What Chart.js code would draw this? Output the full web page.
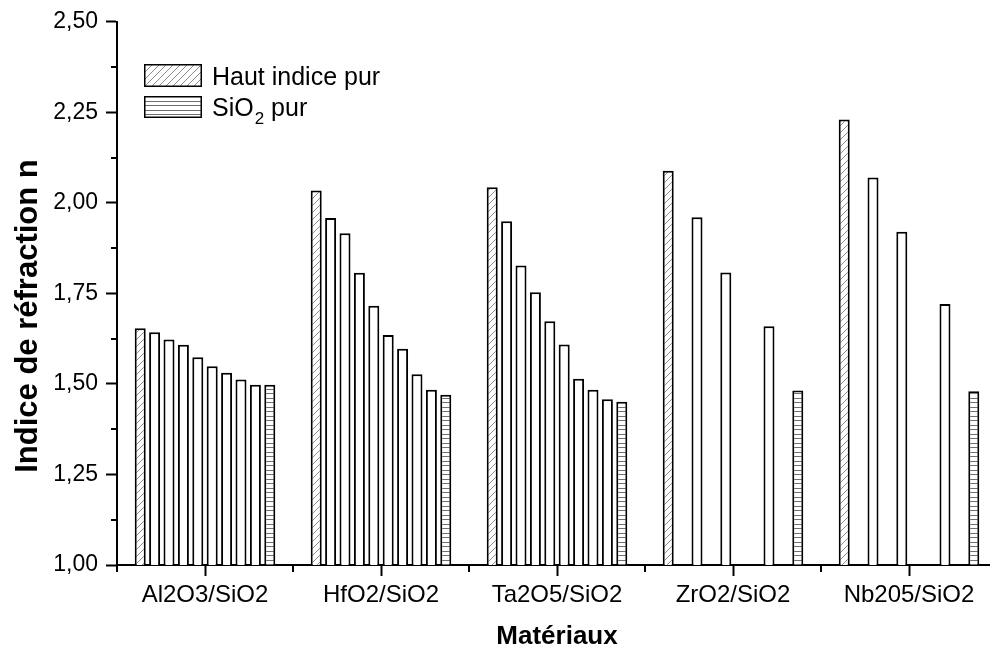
<!DOCTYPE html>
<html><head><meta charset="utf-8">
<script src="https://cdn.jsdelivr.net/npm/chart.js@4.4.1/dist/chart.umd.min.js"></script>
<style>
html,body{margin:0;padding:0;background:#fff;overflow:hidden;width:990px;height:653px}
#wrap{width:1000px;height:653px}
canvas{display:block}
</style></head><body><div id="wrap"><canvas id="c" width="1000" height="653"></canvas></div>
<script>
// ---- data ----
const categories = ['Al2O3/SiO2', 'HfO2/SiO2', 'Ta2O5/SiO2', 'ZrO2/SiO2', 'Nb205/SiO2'];
const hautIndicePur = [1.654, 2.034, 2.043, 2.089, 2.230];
const melange1 = [1.643, 1.958, 1.949, null, null];
const melange2 = [1.623, 1.916, 1.827, 1.960, 2.070];
const melange3 = [1.608, 1.807, 1.753, null, null];
const melange4 = [1.574, 1.716, 1.673, 1.808, 1.920];
const melange5 = [1.549, 1.635, 1.609, null, null];
const melange6 = [1.531, 1.597, 1.514, null, null];
const melange7 = [1.512, 1.527, 1.484, 1.659, 1.721];
const melange8 = [1.498, 1.484, 1.458, null, null];
const sio2Pur = [1.498, 1.470, 1.451, 1.482, 1.480];
const yTicks = [1.00, 1.25, 1.50, 1.75, 2.00, 2.25, 2.50];
const legendLabels = ['Haut indice pur', 'SiO₂ pur'];
const yTitle = 'Indice de réfraction n';
const xTitle = 'Matériaux';

const FONT = "'Liberation Sans', Arial, sans-serif";

function hatchPattern() {
  const c = document.createElement('canvas'); c.width = 7; c.height = 7;
  const g = c.getContext('2d');
  g.fillStyle = '#fff'; g.fillRect(0, 0, 7, 7);
  g.strokeStyle = '#8c8c8c'; g.lineWidth = 1;
  g.beginPath(); g.moveTo(-1, 8); g.lineTo(8, -1); g.stroke();
  g.beginPath(); g.moveTo(-1, 1); g.lineTo(1, -1); g.stroke();
  g.beginPath(); g.moveTo(6, 8); g.lineTo(8, 6); g.stroke();
  return g.createPattern(c, 'repeat');
}
function linePattern() {
  const c = document.createElement('canvas'); c.width = 4; c.height = 9;
  const g = c.getContext('2d');
  g.fillStyle = '#fff'; g.fillRect(0, 0, 4, 9);
  g.fillStyle = '#6e6e6e';
  g.fillRect(0, 2, 4, 1); g.fillRect(0, 6, 4, 1);
  return g.createPattern(c, 'repeat');
}
const hatch = hatchPattern();
const hlines = linePattern();

const series = [hautIndicePur, melange1, melange2, melange3, melange4, melange5, melange6, melange7, melange8, sio2Pur];
const datasets = series.map((d, i) => ({
  label: i === 0 ? legendLabels[0] : (i === series.length - 1 ? legendLabels[1] : 'mélange ' + i),
  data: d,
  backgroundColor: i === 0 ? hatch : (i === series.length - 1 ? hlines : '#ffffff'),
  borderColor: '#000',
  borderWidth: 2,
  barPercentage: 0.764,
  categoryPercentage: 0.818
}));

const extras = {
  id: 'extras',
  afterDraw(chart) {
    const { ctx, scales: { x, y } } = chart;
    ctx.save();
    ctx.strokeStyle = '#000'; ctx.lineWidth = 2;
    // minor y ticks
    for (let i = 0; i < yTicks.length - 1; i++) {
      const py = Math.round(y.getPixelForValue((yTicks[i] + yTicks[i + 1]) / 2));
      ctx.beginPath(); ctx.moveTo(x.left - 6, py); ctx.lineTo(x.left, py); ctx.stroke();
    }
    // minor x ticks at category boundaries
    for (let i = 0; i <= categories.length; i++) {
      const px = Math.round(x.getPixelForValue(i - 0.5));
      ctx.beginPath(); ctx.moveTo(px, y.bottom); ctx.lineTo(px, y.bottom + 7); ctx.stroke();
    }
    // y title
    ctx.save();
    ctx.translate(28, 316);
    ctx.rotate(-Math.PI / 2);
    ctx.fillStyle = '#000';
    ctx.font = 'bold 31px ' + FONT;
    ctx.textAlign = 'center';
    ctx.textBaseline = 'middle';
    ctx.fillText(yTitle, 0, 0);
    ctx.restore();
    // legend
    const ds = chart.data.datasets;
    const items = [ds[0], ds[ds.length - 1]];
    const boxes = [[144, 64, 58, 23], [144, 96, 58, 22]];
    ctx.lineWidth = 1.5;
    items.forEach((d, k) => {
      const [bx, by, bw, bh] = boxes[k];
      ctx.fillStyle = d.backgroundColor;
      ctx.fillRect(bx, by, bw, bh);
      ctx.strokeStyle = '#000';
      ctx.strokeRect(bx + 0.75, by + 0.75, bw - 1.5, bh - 1.5);
    });
    ctx.fillStyle = '#000';
    ctx.textBaseline = 'alphabetic';
    ctx.textAlign = 'left';
    ctx.font = '25px ' + FONT;
    ctx.fillText(items[0].label, 212, 85);
    const parts = items[1].label.split('₂');
    let tx = 212;
    ctx.fillText(parts[0], tx, 116);
    tx += ctx.measureText(parts[0]).width + 1;
    ctx.font = '17px ' + FONT;
    ctx.fillText('2', tx, 124);
    tx += ctx.measureText('2').width;
    ctx.font = '25px ' + FONT;
    ctx.fillText(parts[1], tx, 116);
    ctx.restore();
  }
};

new Chart(document.getElementById('c'), {
  type: 'bar',
  data: { labels: categories, datasets },
  options: {
    responsive: false,
    animation: false,
    devicePixelRatio: 1,
    layout: { padding: { left: 0, right: 3, top: 21, bottom: 0 } },
    plugins: { legend: { display: false }, tooltip: { enabled: false } },
    scales: {
      x: {
        offset: true,
        grid: { offset: false, drawOnChartArea: false, drawTicks: true, tickLength: 11, tickWidth: 2, color: '#000' },
        border: { display: true, color: '#000', width: 2 },
        ticks: { color: '#000', font: { family: FONT, size: 24 }, padding: 5, maxRotation: 0, autoSkip: false },
        title: { display: true, text: xTitle, color: '#000', font: { family: FONT, size: 26, weight: 'bold' }, padding: { top: 0, bottom: 1 } },
        afterFit(s) { s.height = 88; }
      },
      y: {
        min: 1, max: 2.5,
        afterBuildTicks(s) { s.ticks = yTicks.map(v => ({ value: v })); },
        grid: { drawOnChartArea: false, drawTicks: true, tickLength: 11, tickWidth: 2, color: '#000' },
        border: { display: true, color: '#000', width: 2 },
        ticks: { color: '#000', font: { family: FONT, size: 23 }, padding: 8, callback: v => v.toFixed(2).replace('.', ',') },
        title: { display: false },
        afterFit(s) { s.width = 117; }
      }
    }
  },
  plugins: [extras]
});
</script></body></html>
